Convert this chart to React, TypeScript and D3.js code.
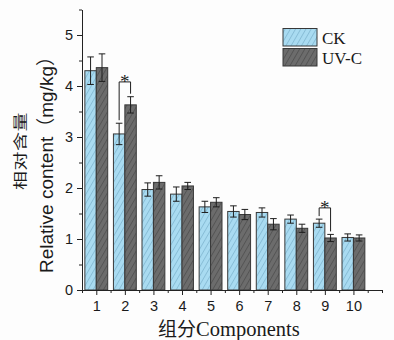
import React, { useEffect, useRef } from 'react';
import * as d3 from 'd3';

const components = [1, 2, 3, 4, 5, 6, 7, 8, 9, 10];
const ckValues = [4.30, 3.06, 1.97, 1.88, 1.63, 1.54, 1.52, 1.39, 1.31, 1.03];
const ckErrors = [0.27, 0.21, 0.13, 0.14, 0.11, 0.11, 0.09, 0.08, 0.08, 0.07];
const uvValues = [4.36, 3.63, 2.11, 2.04, 1.72, 1.48, 1.29, 1.21, 1.02, 1.02];
const uvErrors = [0.27, 0.16, 0.13, 0.07, 0.09, 0.10, 0.11, 0.08, 0.07, 0.06];
const sigComponents = [2, 9];
const sigLevels = [4.08, 1.61];
const yTicks = [0, 1, 2, 3, 4, 5];
const seriesNames = ['CK', 'UV-C'];

const W = 394;
const H = 340;

const App: React.FC = () => {
  const svgRef = useRef<SVGSVGElement>(null);

  useEffect(() => {
    if (!svgRef.current) return;
    const svg = d3.select(svgRef.current);
    svg.selectAll('*').remove();

    const x = d3.scaleLinear().domain([0.5, 11]).range([82, 382]);
    const y = d3.scaleLinear().domain([0, 5.5]).range([290, 9.5]);
    const step = x(2) - x(1);
    const bw = step * 0.4;

    // hatch patterns
    const defs = svg.append('defs');
    const hatch = (id: string, bg: string, line: string) => {
      const p = defs
        .append('pattern')
        .attr('id', id)
        .attr('patternUnits', 'userSpaceOnUse')
        .attr('width', 4.5)
        .attr('height', 6)
        .attr('patternTransform', 'rotate(30)');
      p.append('rect').attr('width', 4.5).attr('height', 6).attr('fill', bg);
      p.append('line')
        .attr('x1', 0.5).attr('x2', 0.5)
        .attr('y1', 0).attr('y2', 6)
        .attr('stroke', line)
        .attr('stroke-width', 0.8);
    };
    hatch('hatch-ck', '#a9dbf1', '#80b6d0');
    hatch('hatch-uv', '#6c6c6c', '#4e4e4e');
    const fills = ['url(#hatch-ck)', 'url(#hatch-uv)'];

    svg.append('rect').attr('width', W).attr('height', H).attr('fill', '#fdfdfd');

    // bars
    const series = [
      { vals: ckValues, errs: ckErrors, off: -bw },
      { vals: uvValues, errs: uvErrors, off: 0 }
    ];
    series.forEach((s, si) => {
      const g = svg.append('g');
      g.selectAll('rect')
        .data(components)
        .enter()
        .append('rect')
        .attr('x', (d) => x(d) + s.off)
        .attr('y', (d, i) => y(s.vals[i]))
        .attr('width', bw)
        .attr('height', (d, i) => y(0) - y(s.vals[i]))
        .attr('fill', fills[si])
        .attr('stroke', '#383838')
        .attr('stroke-width', 1);

      // error bars
      const eb = g
        .selectAll('.err')
        .data(components)
        .enter()
        .append('g')
        .attr('stroke', '#1e1e1e')
        .attr('stroke-width', 1);
      const cx = (d: number) => x(d) + s.off + bw / 2;
      eb.append('line')
        .attr('x1', cx).attr('x2', cx)
        .attr('y1', (d, i) => y(s.vals[i] - s.errs[i]))
        .attr('y2', (d, i) => y(s.vals[i] + s.errs[i]));
      [1, -1].forEach((sign) => {
        eb.append('line')
          .attr('x1', (d) => cx(d) - 3.3)
          .attr('x2', (d) => cx(d) + 3.3)
          .attr('y1', (d, i) => y(s.vals[i] + sign * s.errs[i]))
          .attr('y2', (d, i) => y(s.vals[i] + sign * s.errs[i]));
      });
    });

    // significance brackets
    sigComponents.forEach((c, k) => {
      const i = components.indexOf(c);
      const lx = x(c) - bw / 2;
      const rx = x(c) + bw / 2;
      const top = y(sigLevels[k]);
      const lBottom = y(ckValues[i] + ckErrors[i]) - 3;
      const rBottom = y(uvValues[i] + uvErrors[i]) - 3;
      svg.append('path')
        .attr('d', `M${lx},${lBottom}V${top}H${rx}V${rBottom}`)
        .attr('fill', 'none')
        .attr('stroke', '#1e1e1e')
        .attr('stroke-width', 1);
      svg.append('text')
        .attr('x', x(c))
        .attr('y', top + 6)
        .attr('text-anchor', 'middle')
        .style('font-family', '"Liberation Serif", serif')
        .style('font-size', '19px')
        .style('fill', '#1e1e1e')
        .text('*');
    });

    // axes
    const axisColor = '#222';
    svg.append('g')
      .attr('transform', `translate(${x(0.5)},0)`)
      .call(d3.axisLeft(y).tickValues(yTicks).tickFormat(d3.format('d')).tickSize(5).tickSizeOuter(0).tickPadding(4));
    svg.append('g')
      .attr('transform', `translate(${x(0.5)},0)`)
      .call(d3.axisLeft(y).tickValues(d3.range(0.5, 5.6, 1)).tickSize(3).tickFormat(() => ''))
      .select('.domain').remove();

    svg.append('g')
      .attr('transform', `translate(0,${y(0)})`)
      .call(d3.axisBottom(x).tickValues(components).tickFormat(d3.format('d')).tickSize(5).tickSizeOuter(0).tickPadding(6));
    svg.append('g')
      .attr('transform', `translate(0,${y(0)})`)
      .call(d3.axisBottom(x).tickValues([...d3.range(0.5, 10.6, 1), 11]).tickSize(3).tickFormat(() => ''))
      .select('.domain').remove();

    svg.selectAll('.domain, .tick line').attr('stroke', axisColor);
    svg.selectAll('.tick text')
      .style('font-family', '"Liberation Sans", Arial, sans-serif')
      .style('font-size', '14.5px')
      .attr('fill', '#1a1a1a');

    // legend
    const legend = svg.append('g');
    seriesNames.forEach((name, i) => {
      legend.append('rect')
        .attr('x', 283)
        .attr('y', 28.5 + i * 20)
        .attr('width', 34)
        .attr('height', 17.5)
        .attr('fill', fills[i])
        .attr('stroke', '#383838')
        .attr('stroke-width', 1);
      legend.append('text')
        .attr('x', 322)
        .attr('y', 43.5 + i * 20)
        .style('font-family', '"Liberation Serif", "Times New Roman", serif')
        .style('font-size', '17px')
        .style('fill', '#1a1a1a')
        .text(name);
    });

    // axis titles (the Chinese line is drawn narrow, as in the source figure)
    svg.append('text')
      .attr('transform', 'translate(25,151) rotate(-90) scale(1,0.72)')
      .attr('text-anchor', 'middle')
      .style('font-family', '"Noto Sans CJK SC", sans-serif')
      .style('font-size', '19px')
      .style('letter-spacing', '0.5px')
      .style('fill', '#1a1a1a')
      .text('相对含量');

    const yt = svg.append('text')
      .attr('transform', 'translate(53,160) rotate(-90)')
      .attr('text-anchor', 'middle')
      .style('font-family', '"Liberation Sans", Arial, sans-serif')
      .style('font-size', '19px')
      .style('fill', '#1a1a1a');
    yt.append('tspan').text('Relative content');
    yt.append('tspan').style('font-family', '"Noto Sans CJK SC", sans-serif').text('（');
    yt.append('tspan').text('mg/kg');
    yt.append('tspan').style('font-family', '"Noto Sans CJK SC", sans-serif').text('）');

    const xt = svg.append('text')
      .attr('x', 158)
      .attr('y', 336)
      .style('font-family', '"Liberation Serif", "Times New Roman", serif')
      .style('font-size', '20.5px')
      .style('fill', '#1a1a1a');
    xt.append('tspan').style('font-family', '"Noto Sans CJK SC", sans-serif').style('font-size', '19px').text('组分');
    xt.append('tspan').text('Components');
  }, []);

  return (
    <svg
      ref={svgRef}
      width={W}
      height={H}
      style={{ position: 'absolute', left: 0, top: 0, display: 'block' }}
    />
  );
};

export default App;
